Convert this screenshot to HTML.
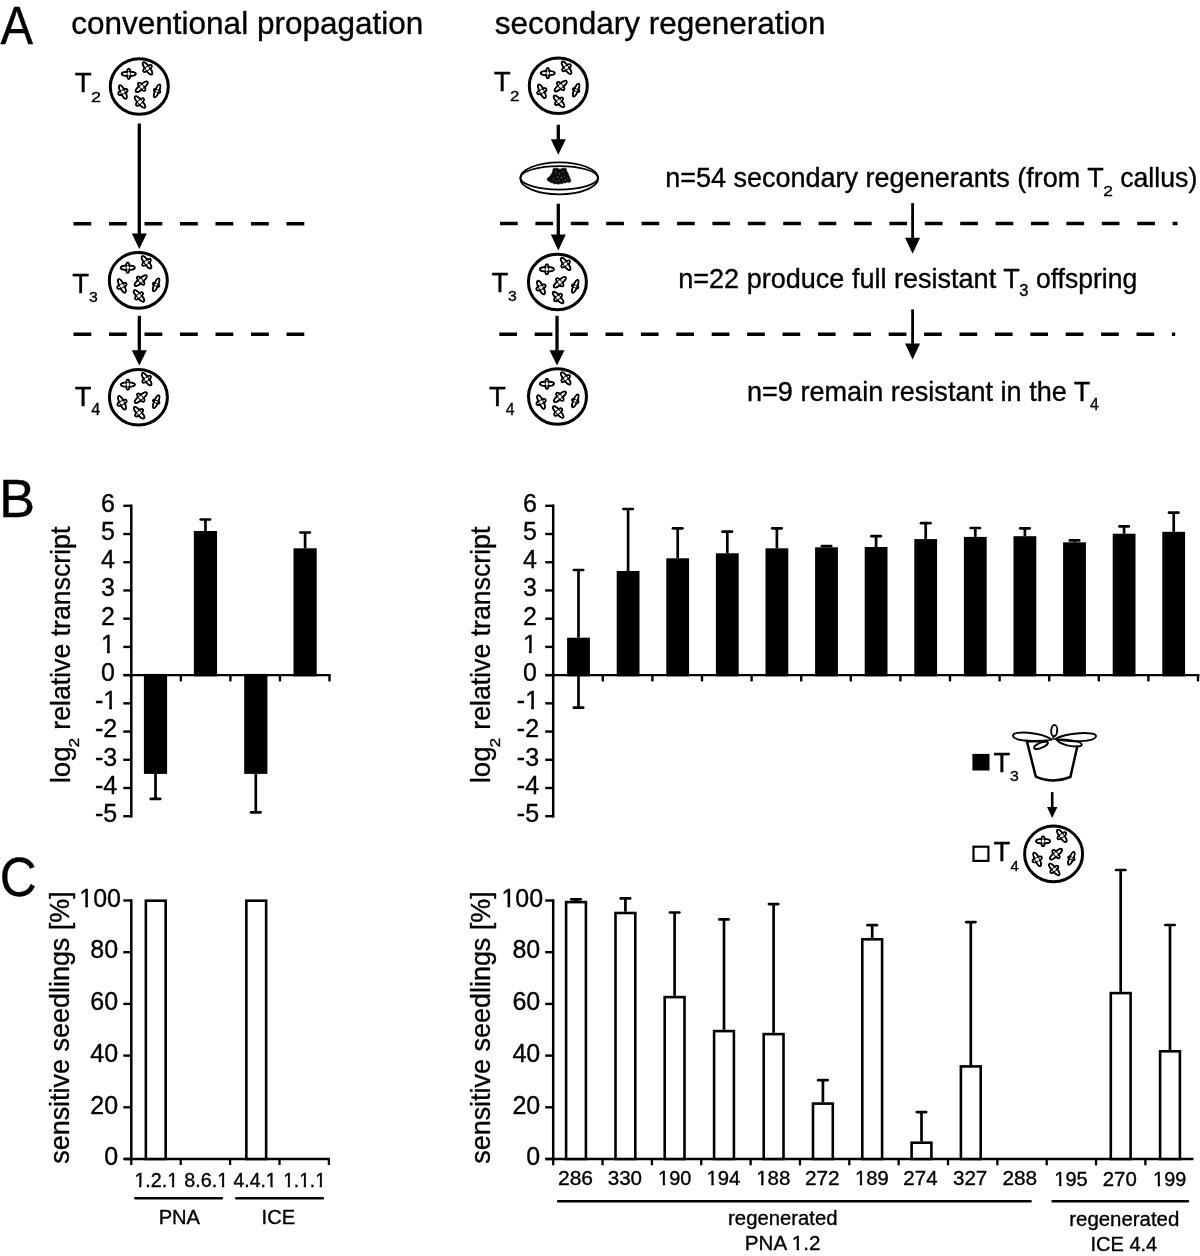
<!DOCTYPE html><html><head><meta charset="utf-8"><title>Figure</title><style>html,body{margin:0;padding:0;background:#fff}svg{display:block}text{font-family:"Liberation Sans",sans-serif;fill:#000;stroke:#000;stroke-width:.35px}</style></head><body><svg width="1200" height="1256" viewBox="0 0 1200 1256"><rect width="1200" height="1256" fill="#fff"/>
<defs><g id="dish"><ellipse rx="29" ry="27.8" fill="#fff" stroke="#000" stroke-width="3"/><g transform="translate(-10.55,-12.7) rotate(0)"><g fill="#fff" stroke="#000" stroke-width="1.95"><ellipse rx="7.05" ry="2.2"/><ellipse rx="1.7" ry="5.1"/></g><g fill="#fff"><ellipse rx="6.08" ry="1.23"/><ellipse rx="0.72" ry="4.12"/></g><g fill="none" stroke="#000" stroke-opacity=".9" stroke-width="1"><ellipse rx="7.05" ry="2.2"/><ellipse rx="1.7" ry="5.1"/></g></g><g transform="translate(8.2,-18.1) rotate(53.7)"><g fill="#fff" stroke="#000" stroke-width="1.95"><ellipse rx="7.4" ry="2.2"/><ellipse rx="1.95" ry="5.0"/></g><g fill="#fff"><ellipse rx="6.43" ry="1.23"/><ellipse rx="0.97" ry="4.03"/></g><g fill="none" stroke="#000" stroke-opacity=".9" stroke-width="1"><ellipse rx="7.4" ry="2.2"/><ellipse rx="1.95" ry="5.0"/></g></g><g transform="translate(2.4,0.25) rotate(-40.5)"><g fill="#fff" stroke="#000" stroke-width="1.95"><ellipse rx="7.65" ry="2.2"/><ellipse rx="1.95" ry="5.0"/></g><g fill="#fff"><ellipse rx="6.68" ry="1.23"/><ellipse rx="0.97" ry="4.03"/></g><g fill="none" stroke="#000" stroke-opacity=".9" stroke-width="1"><ellipse rx="7.65" ry="2.2"/><ellipse rx="1.95" ry="5.0"/></g></g><g transform="translate(-16.4,5.5) rotate(64)"><g fill="#fff" stroke="#000" stroke-width="1.95"><ellipse rx="7.4" ry="2.2"/><ellipse rx="1.95" ry="5.0"/></g><g fill="#fff"><ellipse rx="6.43" ry="1.23"/><ellipse rx="0.97" ry="4.03"/></g><g fill="none" stroke="#000" stroke-opacity=".9" stroke-width="1"><ellipse rx="7.4" ry="2.2"/><ellipse rx="1.95" ry="5.0"/></g></g><g transform="translate(17.8,4.4) rotate(-68)"><g fill="#fff" stroke="#000" stroke-width="1.95"><ellipse rx="6.9" ry="1.95"/><ellipse rx="1.3" ry="3.4"/></g><g fill="#fff"><ellipse rx="5.93" ry="0.97"/><ellipse rx="0.33" ry="2.42"/></g><g fill="none" stroke="#000" stroke-opacity=".9" stroke-width="1"><ellipse rx="6.9" ry="1.95"/><ellipse rx="1.3" ry="3.4"/></g></g><g transform="translate(0.7,15.5) rotate(48)"><g fill="#fff" stroke="#000" stroke-width="1.95"><ellipse rx="7.4" ry="2.2"/><ellipse rx="1.95" ry="4.9"/></g><g fill="#fff"><ellipse rx="6.43" ry="1.23"/><ellipse rx="0.97" ry="3.93"/></g><g fill="none" stroke="#000" stroke-opacity=".9" stroke-width="1"><ellipse rx="7.4" ry="2.2"/><ellipse rx="1.95" ry="4.9"/></g></g></g></defs>
<text transform="translate(0.60,43.70) scale(0.9150,1)" font-size="53.33">A</text>
<text transform="translate(71.24,34.00) scale(0.9845,1.0)" font-size="32">conventional propagation</text>
<text transform="translate(494.66,34.00) scale(0.9843,1.0)" font-size="32">secondary regeneration</text>
<path d="M73.5,223.8 H305" stroke="#000" stroke-width="3.5" stroke-dasharray="17.8 17.7" fill="none"/>
<path d="M73.5,334.3 H305" stroke="#000" stroke-width="3.5" stroke-dasharray="17.8 17.7" fill="none"/>
<path d="M500,223.6 H1177.5" stroke="#000" stroke-width="3.5" stroke-dasharray="17.7 17.7" fill="none"/>
<path d="M499.3,334.3 H1175.2" stroke="#000" stroke-width="3.5" stroke-dasharray="17.7 17.7" fill="none"/>
<path d="M137.65,123.5 H140.95 V234.0 H137.65 Z"/>
<path d="M131.80,233.5 H146.80 L139.30,248.9 Z"/>
<path d="M137.65,315.8 H140.95 V350.8 H137.65 Z"/>
<path d="M131.80,350.3 H146.80 L139.30,365.6 Z"/>
<use href="#dish" x="139.3" y="86.5"/>
<use href="#dish" x="138.3" y="280.4"/>
<use href="#dish" x="138.4" y="397.3"/>
<text transform="translate(74.65,91.80) scale(0.9910,1)" font-size="27.97">T</text>
<text transform="translate(90.90,101.50) scale(1.1680,1)" font-size="15.43">2</text>
<text transform="translate(72.25,293.20) scale(0.9897,1)" font-size="27.83">T</text>
<text transform="translate(89.07,302.15) scale(1.0381,1)" font-size="15.21">3</text>
<text transform="translate(74.65,406.00) scale(0.9834,1)" font-size="27.83">T</text>
<text transform="translate(91.18,415.00) scale(1.0375,1)" font-size="15.65">4</text>
<path d="M556.65,124.7 H559.95 V139.7 H556.65 Z"/>
<path d="M550.80,139.2 H565.80 L558.30,154.79999999999998 Z"/>
<path d="M556.65,203.7 H559.95 V235.0 H556.65 Z"/>
<path d="M550.80,234.5 H565.80 L558.30,250.6 Z"/>
<path d="M555.35,315.8 H558.65 V350.8 H555.35 Z"/>
<path d="M549.50,350.3 H564.50 L557.00,365.6 Z"/>
<use href="#dish" x="558.3" y="85.8"/>
<use href="#dish" x="557.4" y="282"/>
<use href="#dish" x="557.5" y="396.5"/>
<text transform="translate(493.65,91.20) scale(0.9960,1)" font-size="27.83">T</text>
<text transform="translate(509.95,100.50) scale(1.0968,1)" font-size="15.43">2</text>
<text transform="translate(491.45,292.20) scale(0.9897,1)" font-size="27.83">T</text>
<text transform="translate(508.07,301.45) scale(1.0381,1)" font-size="15.21">3</text>
<text transform="translate(488.95,405.80) scale(0.9848,1)" font-size="27.97">T</text>
<text transform="translate(505.68,414.80) scale(1.0122,1)" font-size="15.65">4</text>
<g fill="none" stroke="#000" stroke-width="1.75"><ellipse cx="559.2" cy="178.3" rx="39" ry="16"/><ellipse cx="559.2" cy="177.8" rx="38.7" ry="11.7"/></g>
<path transform="translate(0,.5)" d="M553,168.6 L554,167.6 555.6,167.9 557,167.4 558.6,168.3 560,168.8 561.5,168.2 563,167.6 564.6,167.9 565.9,167.5 566.4,169 566.8,171 568,172.6 568.6,174.6 569.6,176.4 570.2,178.4 571,180.2 570.2,181.6 568.6,181.9 567,181.4 565.6,182.4 563.8,182.3 562,183.3 560,183.1 558.2,183.7 556.4,183.2 554.6,183.4 552.8,182.4 551,182.2 549.2,181 547.6,180 546.9,178.4 548,177.2 549.6,176.2 550.6,174.6 551.8,173 552.6,171 Z" fill="#0d0d0d" stroke="#0d0d0d" stroke-width=".6" stroke-linejoin="round"/>
<g fill="#8a8a8a" transform="translate(0,.5)"><circle cx="556" cy="171.6" r=".55"/><circle cx="559.4" cy="173.4" r=".6"/><circle cx="562.6" cy="171" r=".5"/><circle cx="557.6" cy="176.4" r=".6"/><circle cx="561.4" cy="177" r=".65"/><circle cx="564.6" cy="175.6" r=".55"/><circle cx="553.4" cy="178.6" r=".5"/><circle cx="559" cy="180.2" r=".55"/><circle cx="565.4" cy="179.6" r=".6"/><circle cx="555.6" cy="180.8" r=".45"/><circle cx="562.8" cy="180.6" r=".45"/><circle cx="567.6" cy="178" r=".45"/></g>
<text transform="translate(665.14,187.30) scale(1.0005,1.0)" font-size="27">n=54 secondary regenerants (from T</text>
<text transform="translate(1103.33,195.80) scale(1.1253,1)" font-size="15.43">2</text>
<text transform="translate(1120.18,187.30) scale(0.9888,1.0)" font-size="27">callus)</text>
<text transform="translate(678.24,287.50) scale(1.0018,1.0)" font-size="27">n=22 produce full resistant T</text>
<text transform="translate(1019.33,295.84) scale(1.0641,1)" font-size="15.63">3</text>
<text transform="translate(1035.94,287.50) scale(0.9843,1.0)" font-size="27">offspring</text>
<text transform="translate(746.99,401.00) scale(1.0035,1.0)" font-size="27">n=9 remain resistant in the T</text>
<text transform="translate(1089.98,409.80) scale(1.0122,1)" font-size="15.65">4</text>
<path d="M911.20,203.1 H914.00 V238.3 H911.20 Z"/>
<path d="M905.10,237.8 H920.10 L912.60,253.79999999999998 Z"/>
<path d="M911.20,309.4 H914.00 V343.9 H911.20 Z"/>
<path d="M905.10,343.4 H920.10 L912.60,359.6 Z"/>
<text transform="translate(-1.09,516.60) scale(1.0164,1)" font-size="53.33">B</text>
<path d="M131.3,504.55 V817.47" stroke="#000" stroke-width="2.5" fill="none"/>
<path d="M123.30000000000001,505.80 H131.3" stroke="#000" stroke-width="2.4" fill="none"/>
<text transform="translate(101.00,511.70) scale(1.0000,1.0)" font-size="25">6</text>
<path d="M123.30000000000001,534.02 H131.3" stroke="#000" stroke-width="2.4" fill="none"/>
<text transform="translate(101.00,539.92) scale(1.0000,1.0)" font-size="25">5</text>
<path d="M123.30000000000001,562.24 H131.3" stroke="#000" stroke-width="2.4" fill="none"/>
<text transform="translate(101.00,568.14) scale(1.0000,1.0)" font-size="25">4</text>
<path d="M123.30000000000001,590.46 H131.3" stroke="#000" stroke-width="2.4" fill="none"/>
<text transform="translate(101.00,596.36) scale(1.0000,1.0)" font-size="25">3</text>
<path d="M123.30000000000001,618.68 H131.3" stroke="#000" stroke-width="2.4" fill="none"/>
<text transform="translate(101.00,624.58) scale(1.0000,1.0)" font-size="25">2</text>
<path d="M123.30000000000001,646.90 H131.3" stroke="#000" stroke-width="2.4" fill="none"/>
<g transform="translate(101.00,652.80) scale(1.0000,1.0)"><text font-size="25">1</text><g fill="#fff"><rect x="0.50" y="-2.49" width="5.48" height="4.29"/><rect x="8.78" y="-2.49" width="5.60" height="4.29"/></g></g>
<path d="M123.30000000000001,675.12 H131.3" stroke="#000" stroke-width="2.4" fill="none"/>
<text transform="translate(101.00,681.02) scale(1.0000,1.0)" font-size="25">0</text>
<path d="M123.30000000000001,703.34 H131.3" stroke="#000" stroke-width="2.4" fill="none"/>
<g transform="translate(94.90,709.24) scale(1.0000,1.0)"><text font-size="25">-1</text><g fill="#fff"><rect x="8.83" y="-2.49" width="5.47" height="4.29"/><rect x="17.10" y="-2.49" width="5.60" height="4.29"/></g></g>
<path d="M123.30000000000001,731.56 H131.3" stroke="#000" stroke-width="2.4" fill="none"/>
<text transform="translate(94.90,737.46) scale(1.0000,1.0)" font-size="25">-2</text>
<path d="M123.30000000000001,759.78 H131.3" stroke="#000" stroke-width="2.4" fill="none"/>
<text transform="translate(94.90,765.68) scale(1.0000,1.0)" font-size="25">-3</text>
<path d="M123.30000000000001,788.00 H131.3" stroke="#000" stroke-width="2.4" fill="none"/>
<text transform="translate(94.90,793.90) scale(1.0000,1.0)" font-size="25">-4</text>
<path d="M123.30000000000001,816.22 H131.3" stroke="#000" stroke-width="2.4" fill="none"/>
<text transform="translate(94.90,822.12) scale(1.0000,1.0)" font-size="25">-5</text>
<text transform="translate(69.50,783.31) rotate(-90) scale(1.0297,1.0)" font-size="27">log</text>
<text transform="translate(79.10,747.47) rotate(-90) scale(1.1202,1.0)" font-size="15.5">2</text>
<text transform="translate(69.50,729.74) rotate(-90) scale(0.9888,1.0)" font-size="27">relative transcript</text>
<path d="M123.6,675.12 H330.6" stroke="#000" stroke-width="2.4" fill="none"/>
<path d="M180.85,675.12 V681.42" stroke="#000" stroke-width="2.4" fill="none"/>
<path d="M230.40,675.12 V681.42" stroke="#000" stroke-width="2.4" fill="none"/>
<path d="M279.95,675.12 V681.42" stroke="#000" stroke-width="2.4" fill="none"/>
<path d="M329.50,675.12 V681.42" stroke="#000" stroke-width="2.4" fill="none"/>
<rect x="143.90" y="673.92" width="23.2" height="99.98"/>
<path d="M155.50,773.90 V798.90" stroke="#000" stroke-width="2.7" fill="none"/><path d="M150.80,798.90 H160.20" stroke="#000" stroke-width="2.7" stroke-linecap="round" fill="none"/>
<rect x="193.85" y="531.00" width="23.2" height="145.32"/>
<path d="M205.45,531.00 V519.50" stroke="#000" stroke-width="2.7" fill="none"/><path d="M200.75,519.50 H210.15" stroke="#000" stroke-width="2.7" stroke-linecap="round" fill="none"/>
<rect x="244.20" y="673.92" width="23.2" height="99.98"/>
<path d="M255.80,773.90 V812.30" stroke="#000" stroke-width="2.7" fill="none"/><path d="M251.10,812.30 H260.50" stroke="#000" stroke-width="2.7" stroke-linecap="round" fill="none"/>
<rect x="293.50" y="548.30" width="23.2" height="128.02"/>
<path d="M305.10,548.30 V532.50" stroke="#000" stroke-width="2.7" fill="none"/><path d="M300.40,532.50 H309.80" stroke="#000" stroke-width="2.7" stroke-linecap="round" fill="none"/>
<path d="M553.2,504.55 V817.47" stroke="#000" stroke-width="2.5" fill="none"/>
<path d="M545.2,505.80 H553.2" stroke="#000" stroke-width="2.4" fill="none"/>
<text transform="translate(522.90,511.70) scale(1.0000,1.0)" font-size="25">6</text>
<path d="M545.2,534.02 H553.2" stroke="#000" stroke-width="2.4" fill="none"/>
<text transform="translate(522.90,539.92) scale(1.0000,1.0)" font-size="25">5</text>
<path d="M545.2,562.24 H553.2" stroke="#000" stroke-width="2.4" fill="none"/>
<text transform="translate(522.90,568.14) scale(1.0000,1.0)" font-size="25">4</text>
<path d="M545.2,590.46 H553.2" stroke="#000" stroke-width="2.4" fill="none"/>
<text transform="translate(522.90,596.36) scale(1.0000,1.0)" font-size="25">3</text>
<path d="M545.2,618.68 H553.2" stroke="#000" stroke-width="2.4" fill="none"/>
<text transform="translate(522.90,624.58) scale(1.0000,1.0)" font-size="25">2</text>
<path d="M545.2,646.90 H553.2" stroke="#000" stroke-width="2.4" fill="none"/>
<g transform="translate(522.90,652.80) scale(1.0000,1.0)"><text font-size="25">1</text><g fill="#fff"><rect x="0.50" y="-2.49" width="5.48" height="4.29"/><rect x="8.78" y="-2.49" width="5.60" height="4.29"/></g></g>
<path d="M545.2,675.12 H553.2" stroke="#000" stroke-width="2.4" fill="none"/>
<text transform="translate(522.90,681.02) scale(1.0000,1.0)" font-size="25">0</text>
<path d="M545.2,703.34 H553.2" stroke="#000" stroke-width="2.4" fill="none"/>
<g transform="translate(516.80,709.24) scale(1.0000,1.0)"><text font-size="25">-1</text><g fill="#fff"><rect x="8.83" y="-2.49" width="5.47" height="4.29"/><rect x="17.10" y="-2.49" width="5.60" height="4.29"/></g></g>
<path d="M545.2,731.56 H553.2" stroke="#000" stroke-width="2.4" fill="none"/>
<text transform="translate(516.80,737.46) scale(1.0000,1.0)" font-size="25">-2</text>
<path d="M545.2,759.78 H553.2" stroke="#000" stroke-width="2.4" fill="none"/>
<text transform="translate(516.80,765.68) scale(1.0000,1.0)" font-size="25">-3</text>
<path d="M545.2,788.00 H553.2" stroke="#000" stroke-width="2.4" fill="none"/>
<text transform="translate(516.80,793.90) scale(1.0000,1.0)" font-size="25">-4</text>
<path d="M545.2,816.22 H553.2" stroke="#000" stroke-width="2.4" fill="none"/>
<text transform="translate(516.80,822.12) scale(1.0000,1.0)" font-size="25">-5</text>
<text transform="translate(490.30,783.31) rotate(-90) scale(1.0297,1.0)" font-size="27">log</text>
<text transform="translate(499.90,747.47) rotate(-90) scale(1.1202,1.0)" font-size="15.5">2</text>
<text transform="translate(490.30,729.74) rotate(-90) scale(0.9888,1.0)" font-size="27">relative transcript</text>
<path d="M545.5,675.12 H1199.5" stroke="#000" stroke-width="2.4" fill="none"/>
<path d="M602.80,675.12 V681.42" stroke="#000" stroke-width="2.4" fill="none"/>
<path d="M652.40,675.12 V681.42" stroke="#000" stroke-width="2.4" fill="none"/>
<path d="M702.00,675.12 V681.42" stroke="#000" stroke-width="2.4" fill="none"/>
<path d="M751.60,675.12 V681.42" stroke="#000" stroke-width="2.4" fill="none"/>
<path d="M801.20,675.12 V681.42" stroke="#000" stroke-width="2.4" fill="none"/>
<path d="M850.80,675.12 V681.42" stroke="#000" stroke-width="2.4" fill="none"/>
<path d="M900.40,675.12 V681.42" stroke="#000" stroke-width="2.4" fill="none"/>
<path d="M950.00,675.12 V681.42" stroke="#000" stroke-width="2.4" fill="none"/>
<path d="M999.60,675.12 V681.42" stroke="#000" stroke-width="2.4" fill="none"/>
<path d="M1049.20,675.12 V681.42" stroke="#000" stroke-width="2.4" fill="none"/>
<path d="M1098.80,675.12 V681.42" stroke="#000" stroke-width="2.4" fill="none"/>
<path d="M1148.40,675.12 V681.42" stroke="#000" stroke-width="2.4" fill="none"/>
<path d="M1198.00,675.12 V681.42" stroke="#000" stroke-width="2.4" fill="none"/>
<rect x="567.10" y="637.70" width="22.8" height="38.62"/>
<path d="M578.50,637.70 V570.00" stroke="#000" stroke-width="2.7" fill="none"/><path d="M573.80,570.00 H583.20" stroke="#000" stroke-width="2.7" stroke-linecap="round" fill="none"/>
<path d="M578.50,675.12 V707.70" stroke="#000" stroke-width="2.7" fill="none"/><path d="M573.80,707.70 H583.20" stroke="#000" stroke-width="2.7" stroke-linecap="round" fill="none"/>
<rect x="616.70" y="571.00" width="22.8" height="105.32"/>
<path d="M628.10,571.00 V509.00" stroke="#000" stroke-width="2.7" fill="none"/><path d="M623.40,509.00 H632.80" stroke="#000" stroke-width="2.7" stroke-linecap="round" fill="none"/>
<rect x="666.30" y="558.30" width="22.8" height="118.02"/>
<path d="M677.70,558.30 V528.30" stroke="#000" stroke-width="2.7" fill="none"/><path d="M673.00,528.30 H682.40" stroke="#000" stroke-width="2.7" stroke-linecap="round" fill="none"/>
<rect x="715.90" y="553.30" width="22.8" height="123.02"/>
<path d="M727.30,553.30 V531.70" stroke="#000" stroke-width="2.7" fill="none"/><path d="M722.60,531.70 H732.00" stroke="#000" stroke-width="2.7" stroke-linecap="round" fill="none"/>
<rect x="765.50" y="548.30" width="22.8" height="128.02"/>
<path d="M776.90,548.30 V528.30" stroke="#000" stroke-width="2.7" fill="none"/><path d="M772.20,528.30 H781.60" stroke="#000" stroke-width="2.7" stroke-linecap="round" fill="none"/>
<rect x="815.10" y="547.30" width="22.8" height="129.02"/>
<path d="M826.50,547.30 V546.00" stroke="#000" stroke-width="2.7" fill="none"/><path d="M821.80,546.00 H831.20" stroke="#000" stroke-width="2.7" stroke-linecap="round" fill="none"/>
<rect x="864.70" y="547.00" width="22.8" height="129.32"/>
<path d="M876.10,547.00 V536.20" stroke="#000" stroke-width="2.7" fill="none"/><path d="M871.40,536.20 H880.80" stroke="#000" stroke-width="2.7" stroke-linecap="round" fill="none"/>
<rect x="914.30" y="539.10" width="22.8" height="137.22"/>
<path d="M925.70,539.10 V523.20" stroke="#000" stroke-width="2.7" fill="none"/><path d="M921.00,523.20 H930.40" stroke="#000" stroke-width="2.7" stroke-linecap="round" fill="none"/>
<rect x="963.90" y="536.90" width="22.8" height="139.42"/>
<path d="M975.30,536.90 V528.00" stroke="#000" stroke-width="2.7" fill="none"/><path d="M970.60,528.00 H980.00" stroke="#000" stroke-width="2.7" stroke-linecap="round" fill="none"/>
<rect x="1013.50" y="536.20" width="22.8" height="140.12"/>
<path d="M1024.90,536.20 V528.30" stroke="#000" stroke-width="2.7" fill="none"/><path d="M1020.20,528.30 H1029.60" stroke="#000" stroke-width="2.7" stroke-linecap="round" fill="none"/>
<rect x="1063.10" y="542.30" width="22.8" height="134.02"/>
<path d="M1074.50,542.30 V540.40" stroke="#000" stroke-width="2.7" fill="none"/><path d="M1069.80,540.40 H1079.20" stroke="#000" stroke-width="2.7" stroke-linecap="round" fill="none"/>
<rect x="1112.70" y="533.70" width="22.8" height="142.62"/>
<path d="M1124.10,533.70 V526.40" stroke="#000" stroke-width="2.7" fill="none"/><path d="M1119.40,526.40 H1128.80" stroke="#000" stroke-width="2.7" stroke-linecap="round" fill="none"/>
<rect x="1162.30" y="531.80" width="22.8" height="144.52"/>
<path d="M1173.70,531.80 V512.70" stroke="#000" stroke-width="2.7" fill="none"/><path d="M1169.00,512.70 H1178.40" stroke="#000" stroke-width="2.7" stroke-linecap="round" fill="none"/>
<rect x="972.4" y="753.9" width="17.1" height="16.6"/>
<text transform="translate(993.45,772.00) scale(0.9992,1)" font-size="27.39">T</text>
<text transform="translate(1010.07,780.75) scale(1.0381,1)" font-size="15.21">3</text>
<rect x="973.5" y="846.7" width="14.9" height="14.2" fill="#fff" stroke="#000" stroke-width="2.2"/>
<text transform="translate(993.45,861.20) scale(0.9992,1)" font-size="27.39">T</text>
<text transform="translate(1010.40,870.60) scale(0.9669,1)" font-size="15.36">4</text>
<path d="M1050.90,792.1 H1053.50 V807.5 H1050.90 Z"/>
<path d="M1047.00,807.0 H1057.40 L1052.20,818.0 Z"/>
<use href="#dish" x="1053.6" y="853.9"/>
<g fill="none" stroke="#000" stroke-width="1.9" stroke-linejoin="round"><path d="M1051.7,739.6 C1041,731.8 1013,730.3 1013,735.6 C1013,742 1040,741.5 1051.7,739.6Z"/><path d="M1055,739.2 C1066,732.3 1096,731.2 1096,735.9 C1096,742 1068,742.5 1055,739.2Z"/><ellipse cx="1054.2" cy="730.6" rx="3" ry="5.6" transform="rotate(4 1054.2 730.6)"/><path d="M1053.4,736 V739.6"/><ellipse cx="1041" cy="745.2" rx="7.4" ry="2.6" transform="rotate(-23 1041 745.2)"/><path d="M1056.5,739.6 C1066,739.3 1082,741 1081.8,744.6 C1081.5,748.3 1062,746.5 1056.5,739.6Z"/></g>
<path d="M1026.8,741 L1035.8,776.6 Q1053,784.2 1070.4,777 L1077.3,746.5 M1026.8,741.3 H1047" fill="none" stroke="#000" stroke-width="2.5" stroke-linejoin="round" stroke-linecap="round"/>
<text transform="translate(-0.26,896.25) scale(0.9341,1)" font-size="54.79">C</text>
<path d="M131.3,899.25 V1160.25" stroke="#000" stroke-width="2.5" fill="none"/>
<path d="M123.30000000000001,900.50 H131.3" stroke="#000" stroke-width="2.4" fill="none"/>
<g transform="translate(79.25,906.70) scale(1.0000,1.0)"><text font-size="25">100</text><g fill="#fff"><rect x="0.50" y="-2.49" width="5.48" height="4.29"/><rect x="8.78" y="-2.49" width="5.60" height="4.29"/></g></g>
<path d="M123.30000000000001,952.20 H131.3" stroke="#000" stroke-width="2.4" fill="none"/>
<text transform="translate(90.33,958.40) scale(1.0000,1.0)" font-size="25">80</text>
<path d="M123.30000000000001,1003.90 H131.3" stroke="#000" stroke-width="2.4" fill="none"/>
<text transform="translate(90.33,1010.10) scale(1.0000,1.0)" font-size="25">60</text>
<path d="M123.30000000000001,1055.60 H131.3" stroke="#000" stroke-width="2.4" fill="none"/>
<text transform="translate(90.33,1061.80) scale(1.0000,1.0)" font-size="25">40</text>
<path d="M123.30000000000001,1107.30 H131.3" stroke="#000" stroke-width="2.4" fill="none"/>
<text transform="translate(90.33,1113.50) scale(1.0000,1.0)" font-size="25">20</text>
<path d="M123.30000000000001,1159.00 H131.3" stroke="#000" stroke-width="2.4" fill="none"/>
<text transform="translate(104.20,1165.20) scale(1.0000,1.0)" font-size="25">0</text>
<text transform="translate(69.10,1163.81) rotate(-90) scale(0.9981,1.0)" font-size="27">sensitive seedlings [%]</text>
<path d="M124,1159.00 H329.8" stroke="#000" stroke-width="2.3" fill="none"/>
<path d="M131.30,1159.00 V1165.00" stroke="#000" stroke-width="2.3" fill="none"/>
<path d="M180.70,1159.00 V1165.00" stroke="#000" stroke-width="2.3" fill="none"/>
<path d="M230.10,1159.00 V1165.00" stroke="#000" stroke-width="2.3" fill="none"/>
<path d="M279.50,1159.00 V1165.00" stroke="#000" stroke-width="2.3" fill="none"/>
<path d="M328.90,1159.00 V1165.00" stroke="#000" stroke-width="2.3" fill="none"/>
<rect x="145.85" y="900.70" width="19.8" height="258.30" fill="#fff" stroke="#000" stroke-width="2.6"/>
<rect x="246.35" y="900.70" width="19.8" height="258.30" fill="#fff" stroke="#000" stroke-width="2.6"/>
<g transform="translate(134.38,1186.80) scale(0.9856,1.0)"><text font-size="20">1.2.1</text><g fill="#fff"><rect x="0.40" y="-2.11" width="4.32" height="3.91"/><rect x="7.08" y="-2.11" width="4.42" height="3.91"/><rect x="33.76" y="-2.11" width="4.32" height="3.91"/><rect x="40.44" y="-2.11" width="4.42" height="3.91"/></g></g>
<g transform="translate(184.36,1186.80) scale(0.9860,1.0)"><text font-size="20">8.6.1</text><g fill="#fff"><rect x="33.76" y="-2.11" width="4.32" height="3.91"/><rect x="40.44" y="-2.11" width="4.42" height="3.91"/></g></g>
<g transform="translate(233.61,1186.80) scale(0.9673,1.0)"><text font-size="20">4.4.1</text><g fill="#fff"><rect x="33.76" y="-2.11" width="4.32" height="3.91"/><rect x="40.44" y="-2.11" width="4.42" height="3.91"/></g></g>
<g transform="translate(283.18,1186.80) scale(0.9582,1.0)"><text font-size="20">1.1.1</text><g fill="#fff"><rect x="0.40" y="-2.11" width="4.32" height="3.91"/><rect x="7.08" y="-2.11" width="4.42" height="3.91"/><rect x="17.08" y="-2.11" width="4.32" height="3.91"/><rect x="23.76" y="-2.11" width="4.42" height="3.91"/><rect x="33.76" y="-2.11" width="4.32" height="3.91"/><rect x="40.44" y="-2.11" width="4.42" height="3.91"/></g></g>
<path d="M135.3,1198.2 H221.8 M236.3,1198.2 H322.8" stroke="#000" stroke-width="2.6" stroke-linecap="round" fill="none"/>
<text transform="translate(158.64,1223.75) scale(1.0099,1)" font-size="19.93">PNA</text>
<text transform="translate(261.59,1223.80) scale(1.0033,1)" font-size="20.0">ICE</text>
<path d="M553.2,899.25 V1160.25" stroke="#000" stroke-width="2.5" fill="none"/>
<path d="M545.2,900.50 H553.2" stroke="#000" stroke-width="2.4" fill="none"/>
<g transform="translate(501.45,906.70) scale(1.0000,1.0)"><text font-size="25">100</text><g fill="#fff"><rect x="0.50" y="-2.49" width="5.48" height="4.29"/><rect x="8.78" y="-2.49" width="5.60" height="4.29"/></g></g>
<path d="M545.2,952.20 H553.2" stroke="#000" stroke-width="2.4" fill="none"/>
<text transform="translate(512.42,958.40) scale(1.0000,1.0)" font-size="25">80</text>
<path d="M545.2,1003.90 H553.2" stroke="#000" stroke-width="2.4" fill="none"/>
<text transform="translate(512.42,1010.10) scale(1.0000,1.0)" font-size="25">60</text>
<path d="M545.2,1055.60 H553.2" stroke="#000" stroke-width="2.4" fill="none"/>
<text transform="translate(512.42,1061.80) scale(1.0000,1.0)" font-size="25">40</text>
<path d="M545.2,1107.30 H553.2" stroke="#000" stroke-width="2.4" fill="none"/>
<text transform="translate(512.42,1113.50) scale(1.0000,1.0)" font-size="25">20</text>
<path d="M545.2,1159.00 H553.2" stroke="#000" stroke-width="2.4" fill="none"/>
<text transform="translate(526.30,1165.20) scale(1.0000,1.0)" font-size="25">0</text>
<text transform="translate(490.30,1163.81) rotate(-90) scale(0.9981,1.0)" font-size="27">sensitive seedlings [%]</text>
<path d="M545.5,1159.00 H1193.5" stroke="#000" stroke-width="2.3" fill="none"/>
<path d="M553.20,1159.00 V1165.30" stroke="#000" stroke-width="2.3" fill="none"/>
<path d="M602.55,1159.00 V1165.30" stroke="#000" stroke-width="2.3" fill="none"/>
<path d="M651.90,1159.00 V1165.30" stroke="#000" stroke-width="2.3" fill="none"/>
<path d="M701.25,1159.00 V1165.30" stroke="#000" stroke-width="2.3" fill="none"/>
<path d="M750.60,1159.00 V1165.30" stroke="#000" stroke-width="2.3" fill="none"/>
<path d="M799.95,1159.00 V1165.30" stroke="#000" stroke-width="2.3" fill="none"/>
<path d="M849.30,1159.00 V1165.30" stroke="#000" stroke-width="2.3" fill="none"/>
<path d="M898.65,1159.00 V1165.30" stroke="#000" stroke-width="2.3" fill="none"/>
<path d="M948.00,1159.00 V1165.30" stroke="#000" stroke-width="2.3" fill="none"/>
<path d="M997.35,1159.00 V1165.30" stroke="#000" stroke-width="2.3" fill="none"/>
<path d="M1046.70,1159.00 V1165.30" stroke="#000" stroke-width="2.3" fill="none"/>
<path d="M1096.05,1159.00 V1165.30" stroke="#000" stroke-width="2.3" fill="none"/>
<path d="M1145.40,1159.00 V1165.30" stroke="#000" stroke-width="2.3" fill="none"/>
<path d="M576.00,900.80 V899.30" stroke="#000" stroke-width="2.7" fill="none"/><path d="M571.30,899.30 H580.70" stroke="#000" stroke-width="2.7" stroke-linecap="round" fill="none"/>
<rect x="566.10" y="902.10" width="19.8" height="256.90" fill="#fff" stroke="#000" stroke-width="2.6"/>
<path d="M625.40,911.70 V898.40" stroke="#000" stroke-width="2.7" fill="none"/><path d="M620.70,898.40 H630.10" stroke="#000" stroke-width="2.7" stroke-linecap="round" fill="none"/>
<rect x="615.50" y="913.00" width="19.8" height="246.00" fill="#fff" stroke="#000" stroke-width="2.6"/>
<path d="M674.60,995.80 V912.50" stroke="#000" stroke-width="2.7" fill="none"/><path d="M669.90,912.50 H679.30" stroke="#000" stroke-width="2.7" stroke-linecap="round" fill="none"/>
<rect x="664.70" y="997.10" width="19.8" height="161.90" fill="#fff" stroke="#000" stroke-width="2.6"/>
<path d="M724.00,1029.80 V919.40" stroke="#000" stroke-width="2.7" fill="none"/><path d="M719.30,919.40 H728.70" stroke="#000" stroke-width="2.7" stroke-linecap="round" fill="none"/>
<rect x="714.10" y="1031.10" width="19.8" height="127.90" fill="#fff" stroke="#000" stroke-width="2.6"/>
<path d="M773.60,1032.80 V904.10" stroke="#000" stroke-width="2.7" fill="none"/><path d="M768.90,904.10 H778.30" stroke="#000" stroke-width="2.7" stroke-linecap="round" fill="none"/>
<rect x="763.70" y="1034.10" width="19.8" height="124.90" fill="#fff" stroke="#000" stroke-width="2.6"/>
<path d="M822.90,1102.30 V1080.20" stroke="#000" stroke-width="2.7" fill="none"/><path d="M818.20,1080.20 H827.60" stroke="#000" stroke-width="2.7" stroke-linecap="round" fill="none"/>
<rect x="813.00" y="1103.60" width="19.8" height="55.40" fill="#fff" stroke="#000" stroke-width="2.6"/>
<path d="M872.20,938.00 V925.20" stroke="#000" stroke-width="2.7" fill="none"/><path d="M867.50,925.20 H876.90" stroke="#000" stroke-width="2.7" stroke-linecap="round" fill="none"/>
<rect x="862.30" y="939.30" width="19.8" height="219.70" fill="#fff" stroke="#000" stroke-width="2.6"/>
<path d="M921.50,1141.40 V1112.10" stroke="#000" stroke-width="2.7" fill="none"/><path d="M916.80,1112.10 H926.20" stroke="#000" stroke-width="2.7" stroke-linecap="round" fill="none"/>
<rect x="911.60" y="1142.70" width="19.8" height="16.30" fill="#fff" stroke="#000" stroke-width="2.6"/>
<path d="M970.80,1065.10 V922.10" stroke="#000" stroke-width="2.7" fill="none"/><path d="M966.10,922.10 H975.50" stroke="#000" stroke-width="2.7" stroke-linecap="round" fill="none"/>
<rect x="960.90" y="1066.40" width="19.8" height="92.60" fill="#fff" stroke="#000" stroke-width="2.6"/>
<path d="M1120.70,991.80 V870.00" stroke="#000" stroke-width="2.7" fill="none"/><path d="M1116.00,870.00 H1125.40" stroke="#000" stroke-width="2.7" stroke-linecap="round" fill="none"/>
<rect x="1110.80" y="993.10" width="19.8" height="165.90" fill="#fff" stroke="#000" stroke-width="2.6"/>
<path d="M1170.00,1050.00 V925.00" stroke="#000" stroke-width="2.7" fill="none"/><path d="M1165.30,925.00 H1174.70" stroke="#000" stroke-width="2.7" stroke-linecap="round" fill="none"/>
<rect x="1160.10" y="1051.30" width="19.8" height="107.70" fill="#fff" stroke="#000" stroke-width="2.6"/>
<text transform="translate(557.95,1185.10) scale(1.0508,1.0)" font-size="20">286</text>
<text transform="translate(607.68,1185.10) scale(1.0299,1.0)" font-size="20">330</text>
<g transform="translate(658.11,1185.10) scale(0.9967,1.0)"><text font-size="20">190</text><g fill="#fff"><rect x="0.40" y="-2.11" width="4.32" height="3.91"/><rect x="7.08" y="-2.11" width="4.42" height="3.91"/></g></g>
<g transform="translate(706.57,1185.10) scale(1.0146,1.0)"><text font-size="20">194</text><g fill="#fff"><rect x="0.40" y="-2.11" width="4.32" height="3.91"/><rect x="7.08" y="-2.11" width="4.42" height="3.91"/></g></g>
<g transform="translate(756.16,1185.10) scale(1.0229,1.0)"><text font-size="20">188</text><g fill="#fff"><rect x="0.40" y="-2.11" width="4.32" height="3.91"/><rect x="7.08" y="-2.11" width="4.42" height="3.91"/></g></g>
<text transform="translate(804.96,1185.10) scale(1.0383,1.0)" font-size="20">272</text>
<g transform="translate(854.98,1185.10) scale(1.0115,1.0)"><text font-size="20">189</text><g fill="#fff"><rect x="0.40" y="-2.11" width="4.32" height="3.91"/><rect x="7.08" y="-2.11" width="4.42" height="3.91"/></g></g>
<text transform="translate(903.37,1185.10) scale(1.0252,1.0)" font-size="20">274</text>
<text transform="translate(952.92,1185.10) scale(1.0317,1.0)" font-size="20">327</text>
<text transform="translate(1002.46,1185.10) scale(1.0397,1.0)" font-size="20">288</text>
<g transform="translate(1054.35,1186.00) scale(1.0016,1.0)"><text font-size="20">195</text><g fill="#fff"><rect x="0.40" y="-2.11" width="4.32" height="3.91"/><rect x="7.08" y="-2.11" width="4.42" height="3.91"/></g></g>
<text transform="translate(1102.73,1186.00) scale(1.0206,1.0)" font-size="20">270</text>
<g transform="translate(1153.12,1186.00) scale(0.9902,1.0)"><text font-size="20">199</text><g fill="#fff"><rect x="0.40" y="-2.11" width="4.32" height="3.91"/><rect x="7.08" y="-2.11" width="4.42" height="3.91"/></g></g>
<path d="M558.2,1201.25 H1030.6 M1052.6,1201.25 H1188" stroke="#000" stroke-width="2.6" stroke-linecap="round" fill="none"/>
<text transform="translate(728.08,1225.00) scale(1.0157,1.0)" font-size="20">regenerated</text>
<g transform="translate(744.85,1249.60) scale(1.0297,1)"><text font-size="20.0">PNA 1.2</text><g fill="#fff"><rect x="45.98" y="-2.11" width="4.32" height="3.91"/><rect x="52.66" y="-2.11" width="4.42" height="3.91"/></g></g>
<text transform="translate(1069.27,1226.40) scale(1.0209,1.0)" font-size="20">regenerated</text>
<text transform="translate(1090.45,1251.00) scale(1.0238,1)" font-size="19.58">ICE 4.4</text>
</svg></body></html>
